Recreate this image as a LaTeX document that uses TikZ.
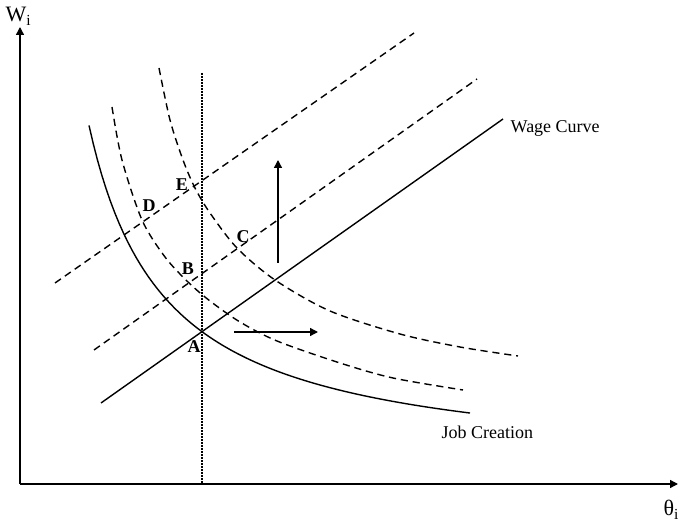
\documentclass[tikz,border=0pt]{standalone}
\usepackage{fontspec}
\setmainfont{Liberation Serif}
\usepackage{tikz}
\usetikzlibrary{arrows.meta, positioning}

\begin{document}
\begin{tikzpicture}[x=0.5pt, y=-0.5pt, line width=0.7pt,
    tip/.style={-{Triangle[length=4pt, width=4pt]}},
    shifted/.style={dash pattern=on 3.6pt off 2.4pt},
    lbl/.style={font=\fontsize{9}{11}\selectfont, inner sep=0pt, anchor=base west},
    pt/.style={font=\fontsize{9}{11}\selectfont\bfseries, inner sep=0pt, anchor=base}]
  \useasboundingbox (0,0) rectangle (682,523);
  % axes
  \coordinate (O) at (20,484);
  \coordinate (ytop) at (20,27);
  \coordinate (xend) at (678,484);
  \draw[tip] (O) -- (ytop);
  \draw[tip] (O) -- (xend);
  \node[font=\fontsize{11}{13}\selectfont, inner sep=0pt, anchor=base west] (wlab) at (5,22) {W\textsubscript{i}};
  \node[font=\fontsize{11}{13}\selectfont, inner sep=0pt, anchor=base west] (tlab) at (663,516) {θ\textsubscript{i}};
  % vertical through A
  \coordinate (vtop) at (202,73);
  \coordinate (vbot) at (202,484);
  \draw[line width=0.6pt, dash pattern=on 0.8pt off 0.7pt] (vtop) -- (vbot);
  % wage curves
  \coordinate (w0a) at (101,403);
  \coordinate (w0b) at (503,119);
  \coordinate (w1a) at (94,350);
  \coordinate (w1b) at (477,79);
  \coordinate (w2a) at (55,283);
  \coordinate (w2b) at (414,33);
  \draw (w0a) -- (w0b);
  \draw[shifted] (w1a) -- (w1b);
  \draw[shifted] (w2a) -- (w2b);
  \node[lbl] (wage) at (510,133) {Wage Curve};
  % job creation curves
  \draw plot[domain=89:470, samples=90] (\x, {470.4-262.19/((\x-13)/100)});
  \draw[shifted] plot[smooth] coordinates {(112,107) (122,160) (142,220)
    (165,257) (188,282) (210,301) (240,322) (277,341) (340,363) (393,378) (463,390)};
  \draw[shifted] plot[smooth] coordinates {(159,68) (170,120) (183,160)
    (195,188) (210,213) (237,248) (275,280) (330,311) (400,334) (460,347) (518,356)};
  \node[lbl] (job) at (441,439) {Job Creation};
  % shifts
  \coordinate (hs) at (234,332);
  \coordinate (he) at (318,332);
  \coordinate (vs) at (278,263);
  \coordinate (ve) at (278,160);
  \draw[tip] (hs) -- (he);
  \draw[tip] (vs) -- (ve);
  % equilibria
  \node[pt] (A) at (194,353) {A};
  \node[pt] (B) at (188,275) {B};
  \node[pt] (C) at (243,243) {C};
  \node[pt] (D) at (149,212) {D};
  \node[pt] (E) at (182,191) {E};
\end{tikzpicture}
\end{document}
